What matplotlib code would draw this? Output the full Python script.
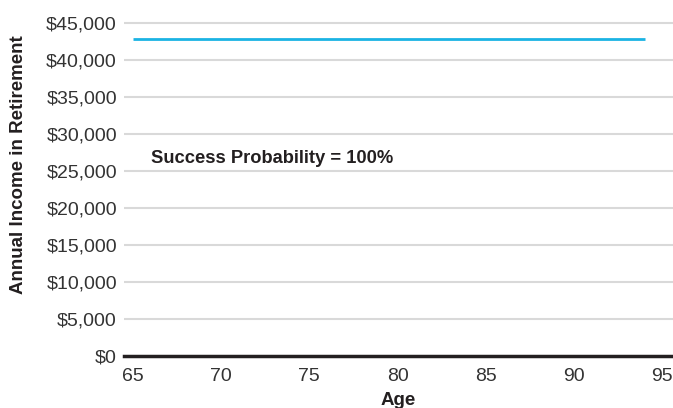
import matplotlib
matplotlib.use("Agg")
import matplotlib.pyplot as plt
from matplotlib.ticker import FuncFormatter

plt.rcParams['font.family'] = ['Liberation Sans', 'DejaVu Sans']

ages = [65, 94]
income = [42750, 42750]
y_ticks = [0, 5000, 10000, 15000, 20000, 25000, 30000, 35000, 40000, 45000]
x_ticks = [65, 70, 75, 80, 85, 90, 95]
annotation = "Success Probability = 100%"

fig = plt.figure(figsize=(6.73, 4.08), dpi=100)
ax = fig.add_axes([0.184, 0.128, 0.816, 0.835])

ax.set_xlim(64.5, 95.6)
ax.set_ylim(0, 46000)

for v in y_ticks[1:]:
    ax.axhline(v, color='#d9d9d9', lw=1.5, zorder=1)
ax.axhline(0, color='#231f20', lw=2.5, zorder=3, clip_on=False)

ax.plot(ages, income, color='#1bb3e3', lw=2.0, zorder=2, solid_capstyle='butt')

ax.set_yticks(y_ticks)
ax.set_xticks(x_ticks)
ax.yaxis.set_major_formatter(FuncFormatter(lambda v, p: f"${v:,.0f}"))
ax.tick_params(axis='both', length=0, labelsize=14, labelcolor='#333333')
ax.tick_params(axis='y', pad=5)
ax.tick_params(axis='x', pad=9)

for s in ax.spines.values():
    s.set_visible(False)

ax.text(66.05, 26700, annotation, fontsize=13.2, fontweight='bold', color='#231f20', va='center')

ax.set_xlabel("Age", fontsize=13.5, fontweight='bold', color='#231f20', labelpad=5)
fig.text(0.027, 0.596, "Annual Income in Retirement", rotation=90, fontsize=13.5,
         fontweight='bold', color='#231f20', va='center', ha='center')

fig.savefig("out.png", dpi=100)
